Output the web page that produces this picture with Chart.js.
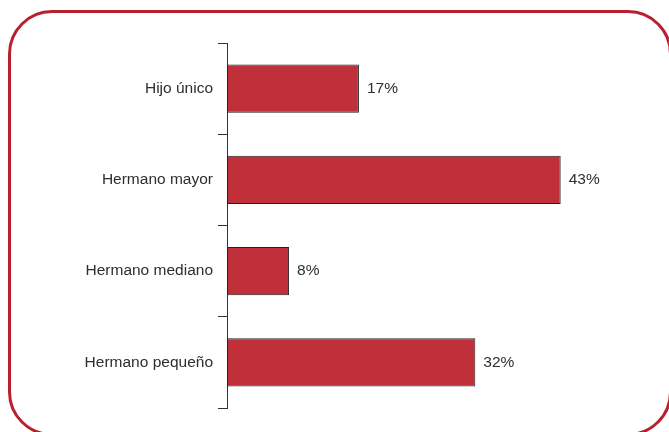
<!DOCTYPE html>
<html>
<head>
<meta charset="utf-8">
<script src="https://cdn.jsdelivr.net/npm/chart.js@4/dist/chart.umd.min.js"></script>
<style>
  html, body { margin: 0; padding: 0; background: #fff; }
  #wrap { position: relative; width: 669px; height: 432px; overflow: hidden; }
  #frame {
    position: absolute; left: 8px; top: 10px; width: 658px; height: 420px;
    border: 3px solid #b8202f; border-radius: 44px;
  }
  #chart { position: absolute; left: 0; top: 0; }
</style>
</head>
<body>
<div id="wrap">
  <div id="frame"></div>
  <canvas id="chart" width="669" height="432"></canvas>
</div>
<script>
// Data
const categories = ["Hijo único", "Hermano mayor", "Hermano mediano", "Hermano pequeño"];
const shares = [17, 43, 8, 32];

const textColor = "#2e2e2e";
const font = { family: "'Liberation Sans', Arial, Helvetica, sans-serif", size: 15.5 };

// value labels to the right of each bar
const valueLabels = {
    id: "valueLabels",
    afterDatasetsDraw(chart){
        const ctx = chart.ctx;
        const meta = chart.getDatasetMeta(0);
        ctx.save();
        ctx.font = `${font.size}px ${font.family}`;
        ctx.fillStyle = textColor;
        ctx.textAlign = "left";
        ctx.textBaseline = "middle";
        meta.data.forEach((bar, i)=>{
            ctx.fillText(shares[i] + "%", bar.x + 8, bar.y);
        });
        ctx.restore();
    }
};

new Chart(document.getElementById("chart"), {
    type: "bar",
    data: {
        labels: categories,
        datasets: [{
            data: shares,
            backgroundColor: "#c0303a",
            borderColor: "#222222",
            borderWidth: 1,
            borderSkipped: false,
            categoryPercentage: 1,
            barPercentage: 0.53
        }]
    },
    options: {
        indexAxis: "y",
        responsive: false,
        animation: false,
        layout: { padding: { left: 0, right: 54, top: 43, bottom: 24 } },
        plugins: { legend: { display: false }, tooltip: { enabled: false } },
        scales: {
            x: { display: false, min: 0, max: 50 },
            y: {
                afterFit(scale){ scale.width = 227; },
                border: { display: true, color: "#333333", width: 1 },
                grid: { offset: true, drawOnChartArea: false, drawTicks: true, tickLength: 9, color: "#333333" },
                ticks: { color: textColor, font: font, padding: 5 }
            }
        }
    },
    plugins: [valueLabels]
});
</script>
</body>
</html>
